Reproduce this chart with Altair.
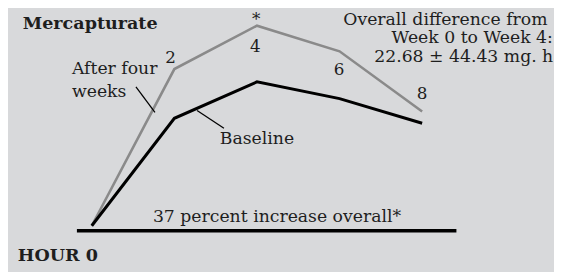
import altair as alt
import pandas as pd

# Data (hours, and values in plot units measured above the base line)
hours = [0, 2, 4, 6, 8]
baseline_vals = [5, 114, 151, 134, 109]
after_vals = [5, 164, 208, 182, 121]

# Annotation text
num_labels = ["2", "4", "*", "6", "8"]
num_x = [1.91, 3.96, 3.98, 5.99, 8.0]
num_y = [170, 181, 209, 158, 134]

label_texts = ["After four", "weeks", "Baseline", "37 percent increase overall*",
               "Overall difference from", "Week 0 to Week 4:", "22.68 \u00b1 44.43 mg. h"]
label_x = [-0.48, -0.48, 3.10, 1.48, 6.09, 7.26, 6.84]
label_y = [159, 136, 88, 9, 209, 190, 171]

bold_texts = ["Mercapturate", "HOUR 0"]
bold_x = [-1.67, -1.79]
bold_y = [205, -31]

leader_x = [1.07, 2.55]
leader_x2 = [1.53, 3.20]
leader_y = [146, 122]
leader_y2 = [120, 104]

axis_x = [-0.36]
axis_x2 = [8.83]
axis_y = [0]

FONT = "DejaVu Serif"
BG = "#d8d9db"
TXT = "#1e1e1e"

xs = alt.Scale(domain=[-2.0286, 11.193], nice=False, zero=False)
ys = alt.Scale(domain=[-40, 224], nice=False, zero=False)

lines_df = pd.DataFrame({
    "hour": hours * 2,
    "value": after_vals + baseline_vals,
    "series": ["After four weeks"] * 5 + ["Baseline"] * 5,
})

gray = alt.Chart(lines_df[lines_df.series == "After four weeks"]).mark_line(
    color="#8a8a8a", strokeWidth=2.6
).encode(x=alt.X("hour:Q", scale=xs, axis=None), y=alt.Y("value:Q", scale=ys, axis=None))

black = alt.Chart(lines_df[lines_df.series == "Baseline"]).mark_line(
    color="#000000", strokeWidth=3
).encode(x=alt.X("hour:Q", scale=xs, axis=None), y=alt.Y("value:Q", scale=ys, axis=None))

axis_df = pd.DataFrame({"x": axis_x, "x2": axis_x2, "y": axis_y})
base_rule = alt.Chart(axis_df).mark_rule(color="#000000", strokeWidth=3.5).encode(
    x=alt.X("x:Q", scale=xs, axis=None), x2="x2:Q", y=alt.Y("y:Q", scale=ys, axis=None)
)

leader_df = pd.DataFrame({"x": leader_x, "x2": leader_x2, "y": leader_y, "y2": leader_y2})
leaders = alt.Chart(leader_df).mark_rule(color="#000000", strokeWidth=1.3).encode(
    x=alt.X("x:Q", scale=xs, axis=None), x2="x2:Q",
    y=alt.Y("y:Q", scale=ys, axis=None), y2="y2:Q"
)

num_df = pd.DataFrame({"t": num_labels, "x": num_x, "y": num_y})
nums = alt.Chart(num_df).mark_text(
    font=FONT, fontSize=17, color=TXT, align="center", baseline="alphabetic"
).encode(x=alt.X("x:Q", scale=xs, axis=None), y=alt.Y("y:Q", scale=ys, axis=None), text="t:N")

lab_df = pd.DataFrame({"t": label_texts, "x": label_x, "y": label_y})
labs = alt.Chart(lab_df).mark_text(
    font=FONT, fontSize=17.5, color=TXT, align="left", baseline="alphabetic"
).encode(x=alt.X("x:Q", scale=xs, axis=None), y=alt.Y("y:Q", scale=ys, axis=None), text="t:N")

bold_df = pd.DataFrame({"t": bold_texts, "x": bold_x, "y": bold_y})
bolds = alt.Chart(bold_df).mark_text(
    font=FONT, fontSize=17.8, fontWeight="bold", color=TXT, align="left", baseline="alphabetic"
).encode(x=alt.X("x:Q", scale=xs, axis=None), y=alt.Y("y:Q", scale=ys, axis=None), text="t:N")

chart = alt.layer(gray, black, base_rule, leaders, nums, labs, bolds).properties(
    width=554, height=264, background=BG, padding=0,
    autosize=alt.AutoSizeParams(type="none"),
).configure_view(stroke=None)

chart.save("out.html", embed_options={"renderer": "svg", "actions": False})
